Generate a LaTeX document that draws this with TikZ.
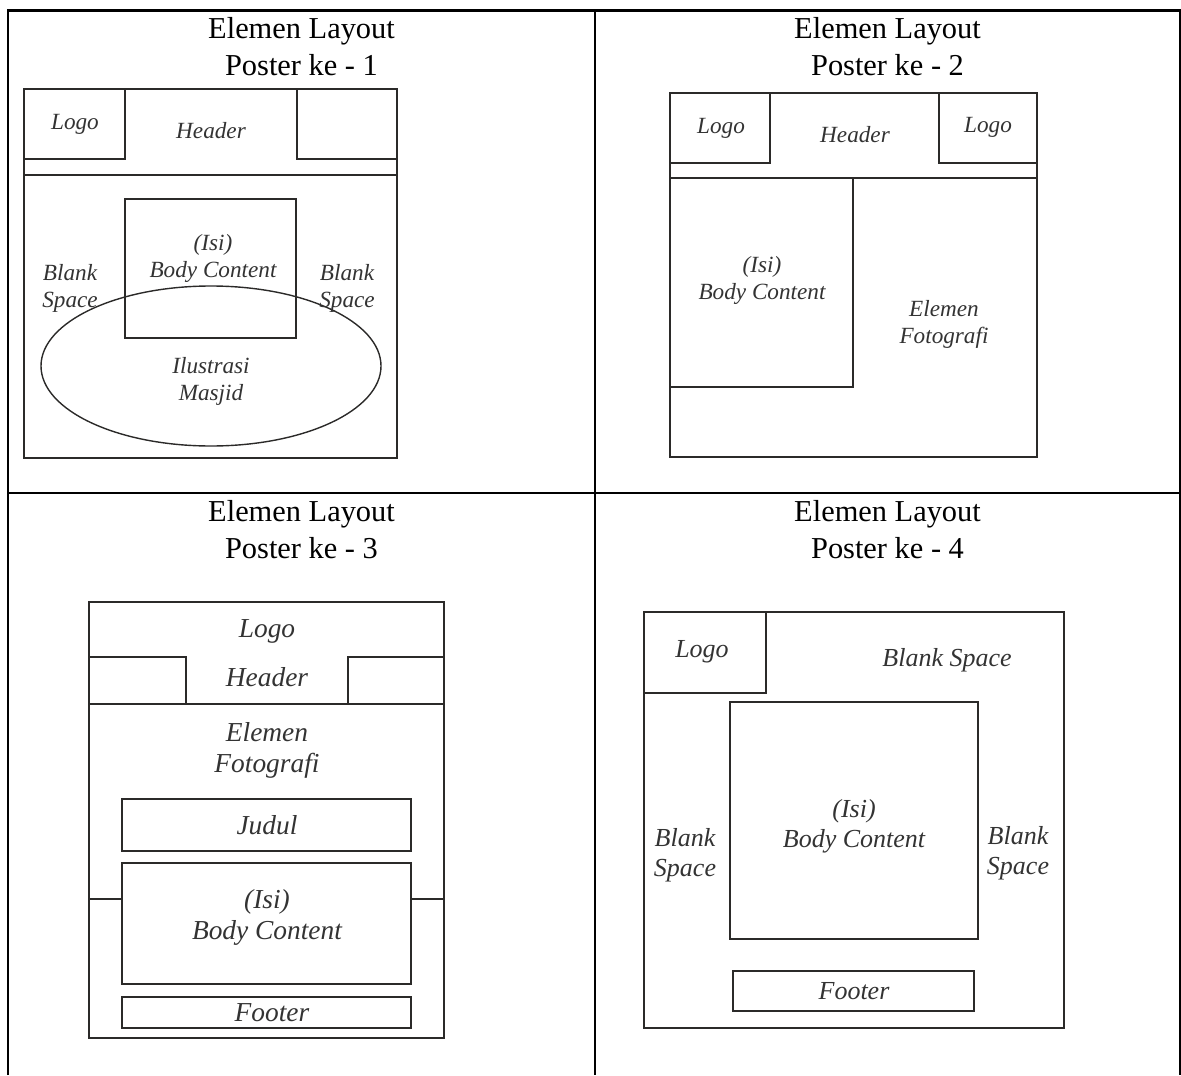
\documentclass[tikz,border=0pt]{standalone}
\usepackage{fontspec}
\setmainfont{Liberation Serif}
\definecolor{inkCol}{HTML}{2B2A29}
\definecolor{txtCol}{HTML}{333333}
\newcommand{\fsA}{\fontsize{11.6}{13.5}\selectfont\itshape}
\newcommand{\fsB}{\fontsize{13.7}{15.5}\selectfont\itshape}
\newcommand{\fsC}{\fontsize{13}{15}\selectfont\itshape}
\tikzset{
  tblline/.style={draw=black, line width=1.3pt},
  frm/.style={draw=inkCol, line width=1.05pt},
  oval/.style={draw=inkCol, line width=0.7pt},
  ttl/.style={anchor=base, inner sep=0pt, font=\fontsize{15.2}{19}\selectfont},
  lbl/.style={inner sep=0pt, align=center, text=txtCol},
}
% title of one table cell: name, x, y of first baseline, poster number
\newcommand{\celltitle}[4]{%
  \node[ttl] (#1a) at (#2,#3) {Elemen Layout};
  \node[ttl] (#1b) at ([yshift=-18.5pt]#1a.base) {Poster ke - #4};}

\begin{document}
\begin{tikzpicture}[x=0.5pt, y=-0.5pt]
  \useasboundingbox (0,0) rectangle (1181,1075);

  % table
  \draw[tblline] (8,1075) -- (8,10.5) -- (1180,10.5) -- (1180,1075);
  \draw[tblline] (595,10.5) -- (595,1075);
  \draw[tblline] (8,493) -- (1180,493);

  \celltitle{t1}{301.5}{38.5}{1}
  \celltitle{t2}{887.5}{38.5}{2}
  \celltitle{t3}{301.5}{521}{3}
  \celltitle{t4}{887.5}{521}{4}

  % poster 1
  \draw[frm] (24,89) rectangle (397,458);
  \draw[frm] (24,159) -- (125,159) -- (125,89);
  \draw[frm] (397,159) -- (297,159) -- (297,89);
  \draw[frm] (24,175) -- (397,175);
  \draw[frm] (125,199) rectangle (296,338);
  \draw[oval] (211,366) ellipse [x radius=85pt, y radius=40pt];
  \node[lbl, font=\fsA] (p1logo)   at (75,124)  {Logo};
  \node[lbl, font=\fsA] (p1head)   at (211,131) {Header};
  \node[lbl, font=\fsA] (p1body)   at (213,258) {(Isi)\\Body Content};
  \node[lbl, font=\fsA] (p1blankl) at (70,288)  {Blank\\Space};
  \node[lbl, font=\fsA] (p1blankr) at (347,288) {Blank\\Space};
  \node[lbl, font=\fsA] (p1ill)    at (211,381) {Ilustrasi\\Masjid};

  % poster 2
  \draw[frm] (670,93) rectangle (1037,457);
  \draw[frm] (670,163) -- (770,163) -- (770,93);
  \draw[frm] (1037,163) -- (939,163) -- (939,93);
  \draw[frm] (670,178) -- (1037,178);
  \draw[frm] (670,387) -- (853,387) -- (853,178);
  \node[lbl, font=\fsA] (p2logol) at (721,128) {Logo};
  \node[lbl, font=\fsA] (p2logor) at (988,127) {Logo};
  \node[lbl, font=\fsA] (p2head)  at (855,135) {Header};
  \node[lbl, font=\fsA] (p2body)  at (762,280) {(Isi)\\Body Content};
  \node[lbl, font=\fsA] (p2foto)  at (944,324) {Elemen\\Fotografi};

  % poster 3
  \draw[frm] (89,602) rectangle (444,1038);
  \draw[frm] (89,657) -- (186,657) -- (186,704);
  \draw[frm] (444,657) -- (348,657) -- (348,704);
  \draw[frm] (89,704) -- (444,704);
  \draw[frm] (122,799) rectangle (411,851);
  \draw[frm] (122,863) rectangle (411,984);
  \draw[frm] (89,899) -- (122,899);
  \draw[frm] (411,899) -- (444,899);
  \draw[frm] (122,997) rectangle (411,1028);
  \node[lbl, font=\fsB] (p3logo)  at (267,631)  {Logo};
  \node[lbl, font=\fsB] (p3head)  at (267,677)  {Header};
  \node[lbl, font=\fsB] (p3foto)  at (267,750)  {Elemen\\Fotografi};
  \node[lbl, font=\fsB] (p3judul) at (267,825)  {Judul};
  \node[lbl, font=\fsB] (p3body)  at (267,917)  {(Isi)\\Body Content};
  \node[lbl, font=\fsB] (p3foot)  at (272,1013) {Footer};

  % poster 4
  \draw[frm] (644,612) rectangle (1064,1028);
  \draw[frm] (644,693) -- (766,693) -- (766,612);
  \draw[frm] (730,702) rectangle (978,939);
  \draw[frm] (733,971) rectangle (974,1011);
  \node[lbl, font=\fsC] (p4logo)   at (702,652)  {Logo};
  \node[lbl, font=\fsC] (p4blankt) at (947,660)  {Blank Space};
  \node[lbl, font=\fsC] (p4body)   at (854,826)  {(Isi)\\Body Content};
  \node[lbl, font=\fsC] (p4blankl) at (685,855)  {Blank\\Space};
  \node[lbl, font=\fsC] (p4blankr) at (1018,853) {Blank\\Space};
  \node[lbl, font=\fsC] (p4foot)   at (854,991)  {Footer};
\end{tikzpicture}
\end{document}
